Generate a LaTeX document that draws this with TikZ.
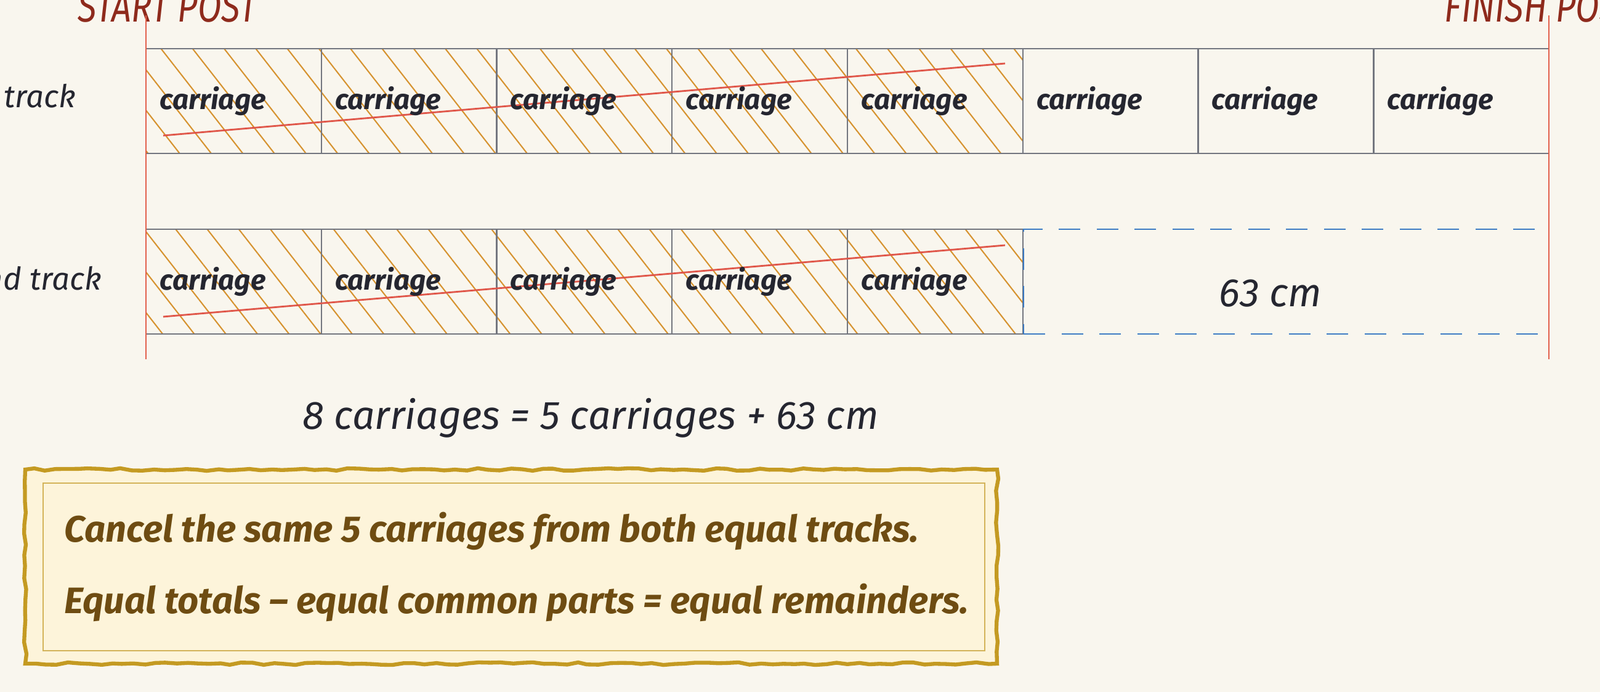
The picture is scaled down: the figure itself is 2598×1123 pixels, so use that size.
\documentclass[tikz,border=0pt]{standalone}
\usepackage{fontspec}
\setmainfont{Fira Sans}
\newfontfamily\narrowfont[FakeStretch=0.8]{Fira Sans}
\usetikzlibrary{patterns.meta,decorations.pathmorphing}

\definecolor{paper}{HTML}{F9F6EE}
\definecolor{gridgray}{HTML}{73767F}
\definecolor{postred}{HTML}{E2604C}
\definecolor{titlered}{HTML}{8E2A1C}
\definecolor{hatchorange}{HTML}{D69330}
\definecolor{strikered}{HTML}{E0574A}
\definecolor{dashblue}{HTML}{3D7CC4}
\definecolor{ink}{HTML}{252630}
\definecolor{noteyellow}{HTML}{FDF4DA}
\definecolor{notegold}{HTML}{C49A22}
\definecolor{notebrown}{HTML}{6E4C12}

\begin{document}
\begin{tikzpicture}[x=0.1mm, y=-0.1mm,
  cell/.style={draw=gridgray, line width=0.7pt, minimum width=28.475mm, minimum height=17mm, inner sep=0pt},
  done/.style={pattern={Lines[angle=-52, distance=11.5pt, line width=0.6pt]}, pattern color=hatchorange},
  rest/.style={draw=dashblue, line width=0.7pt, dash pattern=on 10pt off 7.5pt, minimum width=85.3mm, minimum height=17mm, inner sep=0pt},
  carlbl/.style={anchor=west, inner sep=0pt, text=ink, font=\fontsize{13}{15}\selectfont\bfseries\itshape},
  rowlbl/.style={anchor=east, inner sep=0pt, text=ink, font=\fontsize{14.5}{17}\selectfont\itshape},
  postlbl/.style={anchor=base, inner sep=0pt, text=titlered, font=\narrowfont\fontsize{20}{24}\selectfont\itshape},
  post/.style={draw=postred, line width=0.6pt},
  strike/.style={draw=strikered, line width=0.8pt},
  eqtext/.style={inner sep=0pt, text=ink, font=\fontsize{18.3}{22}\selectfont\itshape},
  notetxt/.style={anchor=west, inner sep=0pt, text=notebrown, font=\fontsize{17}{20}\selectfont\bfseries\itshape}]

\useasboundingbox (0,0) rectangle (2598,1123);
\clip (0,0) rectangle (2598,1123);
\fill[paper] (0,0) rectangle (2598,1123);

\coordinate (st) at (237,25);  \coordinate (sb) at (237,583);
\coordinate (ft) at (2515,25); \coordinate (fb) at (2515,583);
\node[postlbl] (start) at (272,36) {START POST};
\node[postlbl, anchor=base west] (finish) at (2345,36) {FINISH POST};

\node[rowlbl] (r1) at (124,161) {first track};
\node[rowlbl] (r2) at (166,452) {second track};

\foreach \i/\s in {1/done,2/done,3/done,4/done,5/done,6/,7/,8/} {
\node[cell,\s] (a\i) at ({237+284.75*(\i-0.5)},164) {};
}
\foreach \i in {1,...,5} {
\node[cell,done] (b\i) at ({237+284.75*(\i-0.5)},457) {};
}
\node[rest] (gap) at (2088.5,457) {};

\coordinate (s1a) at (265,220); \coordinate (s1b) at (1632,103);
\coordinate (s2a) at (265,514); \coordinate (s2b) at (1632,398);
\draw[strike] (s1a) -- (s1b);
\draw[strike] (s2a) -- (s2b);

\foreach \i in {1,...,8} \node[carlbl] (la\i) at ([xshift=2.3mm]a\i.west) {carriage};
\foreach \i in {1,...,5} \node[carlbl] (lb\i) at ([xshift=2.3mm]b\i.west) {carriage};
\node[eqtext] (cm) at (2063,476) {63 cm};

\draw[post] (st) -- (sb);
\draw[post] (ft) -- (fb);

\node[eqtext] (eq) at (959,678) {8 carriages = 5 carriages + 63 cm};

\draw[notegold, line width=1.8pt, fill=noteyellow, decorate, decoration={random steps, segment length=5pt, amplitude=0.6pt}] (41,762) rectangle (1619,1077);
\draw[notegold!75, line width=0.8pt] (70,784) rectangle (1599,1056);
\node[notetxt] (m1) at (104,862) {Cancel the same 5 carriages from both equal tracks.};
\node[notetxt] (m2) at (104,978) {Equal totals – equal common parts = equal remainders.};
\end{tikzpicture}
\end{document}
